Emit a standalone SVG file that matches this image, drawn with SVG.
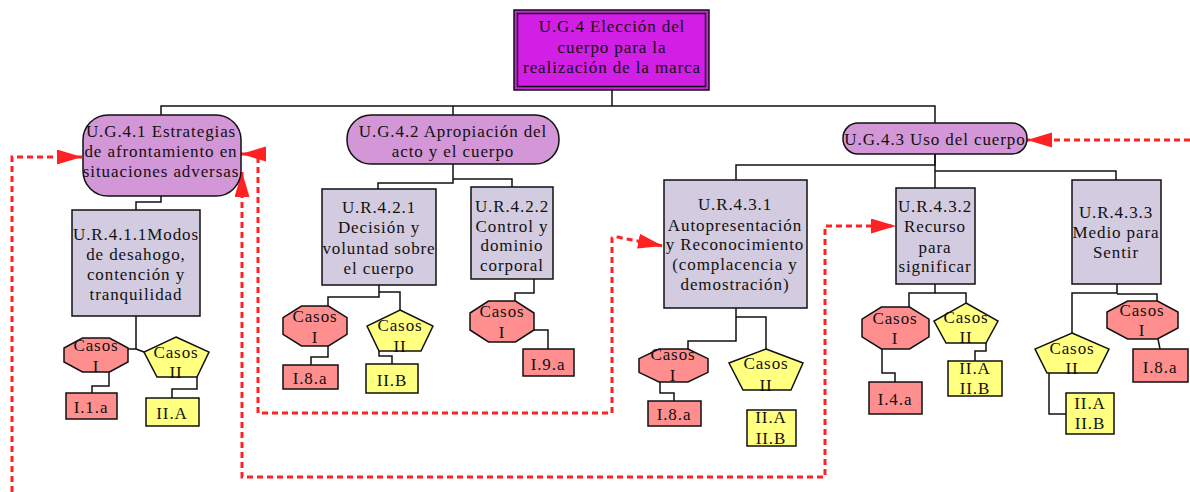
<svg xmlns="http://www.w3.org/2000/svg" width="1190" height="492" viewBox="0 0 1190 492">
<style>
text{font-family:"Liberation Serif","Times New Roman",serif;font-size:17px;letter-spacing:0.9px;text-anchor:middle;fill:#111}
.top{fill:#d21fe6;stroke:#111;stroke-width:1.5}
.pill{fill:#d396d6;stroke:#111;stroke-width:1.5}
.ur{fill:#d3cbe0;stroke:#111;stroke-width:1.5}
.oct{fill:#ff8f8f;stroke:#111;stroke-width:1.5}
.pen{fill:#ffff80;stroke:#111;stroke-width:1.5}
.rb{fill:#ff8f8f;stroke:#111;stroke-width:1.5}
.yb{fill:#ffff80;stroke:#111;stroke-width:1.5}
.e{fill:none;stroke:#111;stroke-width:1.5}
.r{fill:none;stroke:#ff2222;stroke-width:3;stroke-dasharray:6,4}
</style>
<defs>
<marker id="ah" markerUnits="userSpaceOnUse" markerWidth="26" markerHeight="16" refX="25" refY="7.5" orient="auto-start-reverse">
<path d="M0,0 L25,7.5 L0,15 z" fill="#ff2222"/>
</marker>
</defs>
<g id="connectors">
<path class="e" d="M612,90 V106"/>
<path class="e" d="M161,115 V106 H935 V123"/>
<path class="e" d="M453,106 V115"/>
<path class="e" d="M161,196 V202 H136 V210"/>
<path class="e" d="M136,316 V349 H128"/>
<path class="e" d="M136,349 L144,352"/>
<path class="e" d="M109,372 V386 H92 V393"/>
<path class="e" d="M197,377 V389 H172 V398"/>
<path class="e" d="M453,164 V183 H378 V189"/>
<path class="e" d="M453,179 H512 V187"/>
<path class="e" d="M379,285 V297 H328 V306"/>
<path class="e" d="M379,292 H400 V310"/>
<path class="e" d="M328,346 V357 H311 V365"/>
<path class="e" d="M379,351 V356 H392 V364"/>
<path class="e" d="M534,279 V293 H515 V301"/>
<path class="e" d="M534,330 H548 V349"/>
<path class="e" d="M935,154 V165 H736 V180"/>
<path class="e" d="M935,154 V188"/>
<path class="e" d="M935,171 H1116 V180"/>
<path class="e" d="M736,308 V341 H688 V349"/>
<path class="e" d="M736,317 H766 V349"/>
<path class="e" d="M660,382 V393 H674 V401"/>
<path class="e" d="M935,284 V293 H909 V307"/>
<path class="e" d="M935,293 H966 V303"/>
<path class="e" d="M882,349 V373 H895 V382"/>
<path class="e" d="M986,343 V351 H975 V361"/>
<path class="e" d="M1117,284 V293 H1072 V333"/>
<path class="e" d="M1117,294 H1157 V301"/>
<path class="e" d="M1158,339 L1160,349"/>
<path class="e" d="M1049,373 V414 H1066"/>
<path class="r" d="M12,492 V157 H82" marker-end="url(#ah)"/>
<path class="r" d="M241,154 H258 V413 H612 V238 Q614,236 622,238 L663,246" marker-start="url(#ah)" marker-end="url(#ah)"/>
<path class="r" d="M242,172 V477 H825 V226 H896" marker-start="url(#ah)" marker-end="url(#ah)"/>
<path class="r" d="M1190,140 H1027" marker-end="url(#ah)"/>
</g>
<g id="ug4">
<rect class="top" x="514" y="10" width="195" height="80"/>
<rect class="top" x="517.5" y="13.5" width="188" height="73"/>
<text x="612" y="32">U.G.4 Elección del</text>
<text x="612" y="53">cuerpo para la</text>
<text x="612" y="73">realización de la marca</text>
</g>
<g id="ug41">
<rect class="pill" x="83" y="115" width="158" height="81" rx="25"/>
<text x="161" y="137">U.G.4.1 Estrategias</text>
<text x="161" y="157">de afrontamiento en</text>
<text x="161" y="177">situaciones adversas</text>
</g>
<g id="ur411">
<rect class="ur" x="72" y="210" width="128" height="106"/>
<text x="136" y="240">U.R.4.1.1Modos</text>
<text x="136" y="260">de desahogo,</text>
<text x="136" y="280">contención y</text>
<text x="136" y="300">tranquilidad</text>
</g>
<g id="c1a">
<polygon class="oct" points="82.5,338 109.5,338 128,348 128,362 109.5,372 82.5,372 64,362 64,348"/>
<text x="96" y="351">Casos</text>
<text x="96" y="372">I</text>
</g>
<g id="c1b">
<polygon class="pen" points="176,337 209,352 197,377 157,377 144,352"/>
<text x="176" y="358">Casos</text>
<text x="176" y="378">II</text>
</g>
<g id="i11a">
<rect class="rb" x="66" y="393" width="51" height="26"/>
<text x="91" y="413">I.1.a</text>
</g>
<g id="iia1">
<rect class="yb" x="146" y="398" width="53" height="28"/>
<text x="172" y="419">II.A</text>
</g>
<g id="ug42">
<rect class="pill" x="347" y="115" width="212" height="49" rx="24"/>
<text x="453" y="137">U.G.4.2 Apropiación del</text>
<text x="453" y="157">acto y el cuerpo</text>
</g>
<g id="ur421">
<rect class="ur" x="322" y="189" width="114" height="96"/>
<text x="379" y="213">U.R.4.2.1</text>
<text x="379" y="233">Decisión y</text>
<text x="379" y="254">voluntad sobre</text>
<text x="379" y="274">el cuerpo</text>
</g>
<g id="ur422">
<rect class="ur" x="471" y="187" width="82" height="92"/>
<text x="512" y="212">U.R.4.2.2</text>
<text x="512" y="232">Control y</text>
<text x="512" y="251">dominio</text>
<text x="512" y="271">corporal</text>
</g>
<g id="c2a">
<polygon class="oct" points="301.5,306 328.5,306 347,317.6 347,334.4 328.5,346 301.5,346 283,334.4 283,317.6"/>
<text x="315" y="322">Casos</text>
<text x="315" y="343">I</text>
</g>
<g id="c2b">
<polygon class="pen" points="400,310 433,326 421,351 379,351 367,326"/>
<text x="400" y="331">Casos</text>
<text x="400" y="352">II</text>
</g>
<g id="i8a1">
<rect class="rb" x="283" y="365" width="55" height="24"/>
<text x="310" y="384">I.8.a</text>
</g>
<g id="iib">
<rect class="yb" x="366" y="364" width="52" height="29"/>
<text x="392" y="386">II.B</text>
</g>
<g id="c2c">
<polygon class="oct" points="488.5,301 515.5,301 534,313 534,330 515.5,342 488.5,342 470,330 470,313"/>
<text x="502" y="317">Casos</text>
<text x="502" y="338">I</text>
</g>
<g id="i9a">
<rect class="rb" x="523" y="349" width="51" height="27"/>
<text x="548" y="370">I.9.a</text>
</g>
<g id="ug43">
<rect class="pill" x="843" y="123" width="184" height="31" rx="15"/>
<text x="935" y="145">U.G.4.3 Uso del cuerpo</text>
</g>
<g id="ur431">
<rect class="ur" x="664" y="180" width="143" height="128"/>
<text x="735" y="210">U.R.4.3.1</text>
<text x="735" y="231">Autopresentación</text>
<text x="735" y="250">y Reconocimiento</text>
<text x="735" y="270">(complacencia y</text>
<text x="735" y="290">demostración)</text>
</g>
<g id="c3a">
<polygon class="oct" points="659,349 688,349 708,358.6 708,372.4 688,382 659,382 639,372.4 639,358.6"/>
<text x="673" y="360">Casos</text>
<text x="673" y="381">I</text>
</g>
<g id="c3b">
<polygon class="pen" points="766,349 803,363 791,390 743,390 729,363"/>
<text x="766" y="369">Casos</text>
<text x="766" y="391">II</text>
</g>
<g id="i8a2">
<rect class="rb" x="648" y="401" width="53" height="25"/>
<text x="674" y="420">I.8.a</text>
</g>
<g id="iiab1">
<rect class="yb" x="747" y="410" width="49" height="36"/>
<text x="771" y="423">II.A</text>
<text x="771" y="444">II.B</text>
</g>
<g id="ur432">
<rect class="ur" x="896" y="188" width="79" height="96"/>
<text x="935" y="212">U.R.4.3.2</text>
<text x="935" y="232">Recurso</text>
<text x="935" y="253">para</text>
<text x="935" y="272">significar</text>
</g>
<g id="c4a">
<polygon class="oct" points="881.4,307 909.6,307 929,319.2 929,336.8 909.6,349 881.4,349 862,336.8 862,319.2"/>
<text x="895" y="324">Casos</text>
<text x="895" y="344">I</text>
</g>
<g id="c4b">
<polygon class="pen" points="966,303 998,321 986,343 946,343 934,321"/>
<text x="966" y="323">Casos</text>
<text x="966" y="343">II</text>
</g>
<g id="i4a">
<rect class="rb" x="869" y="382" width="53" height="32"/>
<text x="895" y="405">I.4.a</text>
</g>
<g id="iiab2">
<rect class="yb" x="948" y="361" width="54" height="35"/>
<text x="975" y="374">II.A</text>
<text x="975" y="394">II.B</text>
</g>
<g id="ur433">
<rect class="ur" x="1072" y="180" width="89" height="104"/>
<text x="1116" y="218">U.R.4.3.3</text>
<text x="1116" y="238">Medio para</text>
<text x="1116" y="258">Sentir</text>
</g>
<g id="c5b">
<polygon class="pen" points="1072,333 1109,349 1097,373 1047,373 1035,349"/>
<text x="1072" y="354">Casos</text>
<text x="1072" y="374">II</text>
</g>
<g id="c5a">
<polygon class="oct" points="1127.6,301 1157.4,301 1178,312 1178,328 1157.4,339 1127.6,339 1107,328 1107,312"/>
<text x="1142" y="316">Casos</text>
<text x="1142" y="336">I</text>
</g>
<g id="i8a3">
<rect class="rb" x="1133" y="349" width="55" height="33"/>
<text x="1160" y="373">I.8.a</text>
</g>
<g id="iiab3">
<rect class="yb" x="1066" y="393" width="48" height="41"/>
<text x="1090" y="409">II.A</text>
<text x="1090" y="429">II.B</text>
</g>
</svg>
